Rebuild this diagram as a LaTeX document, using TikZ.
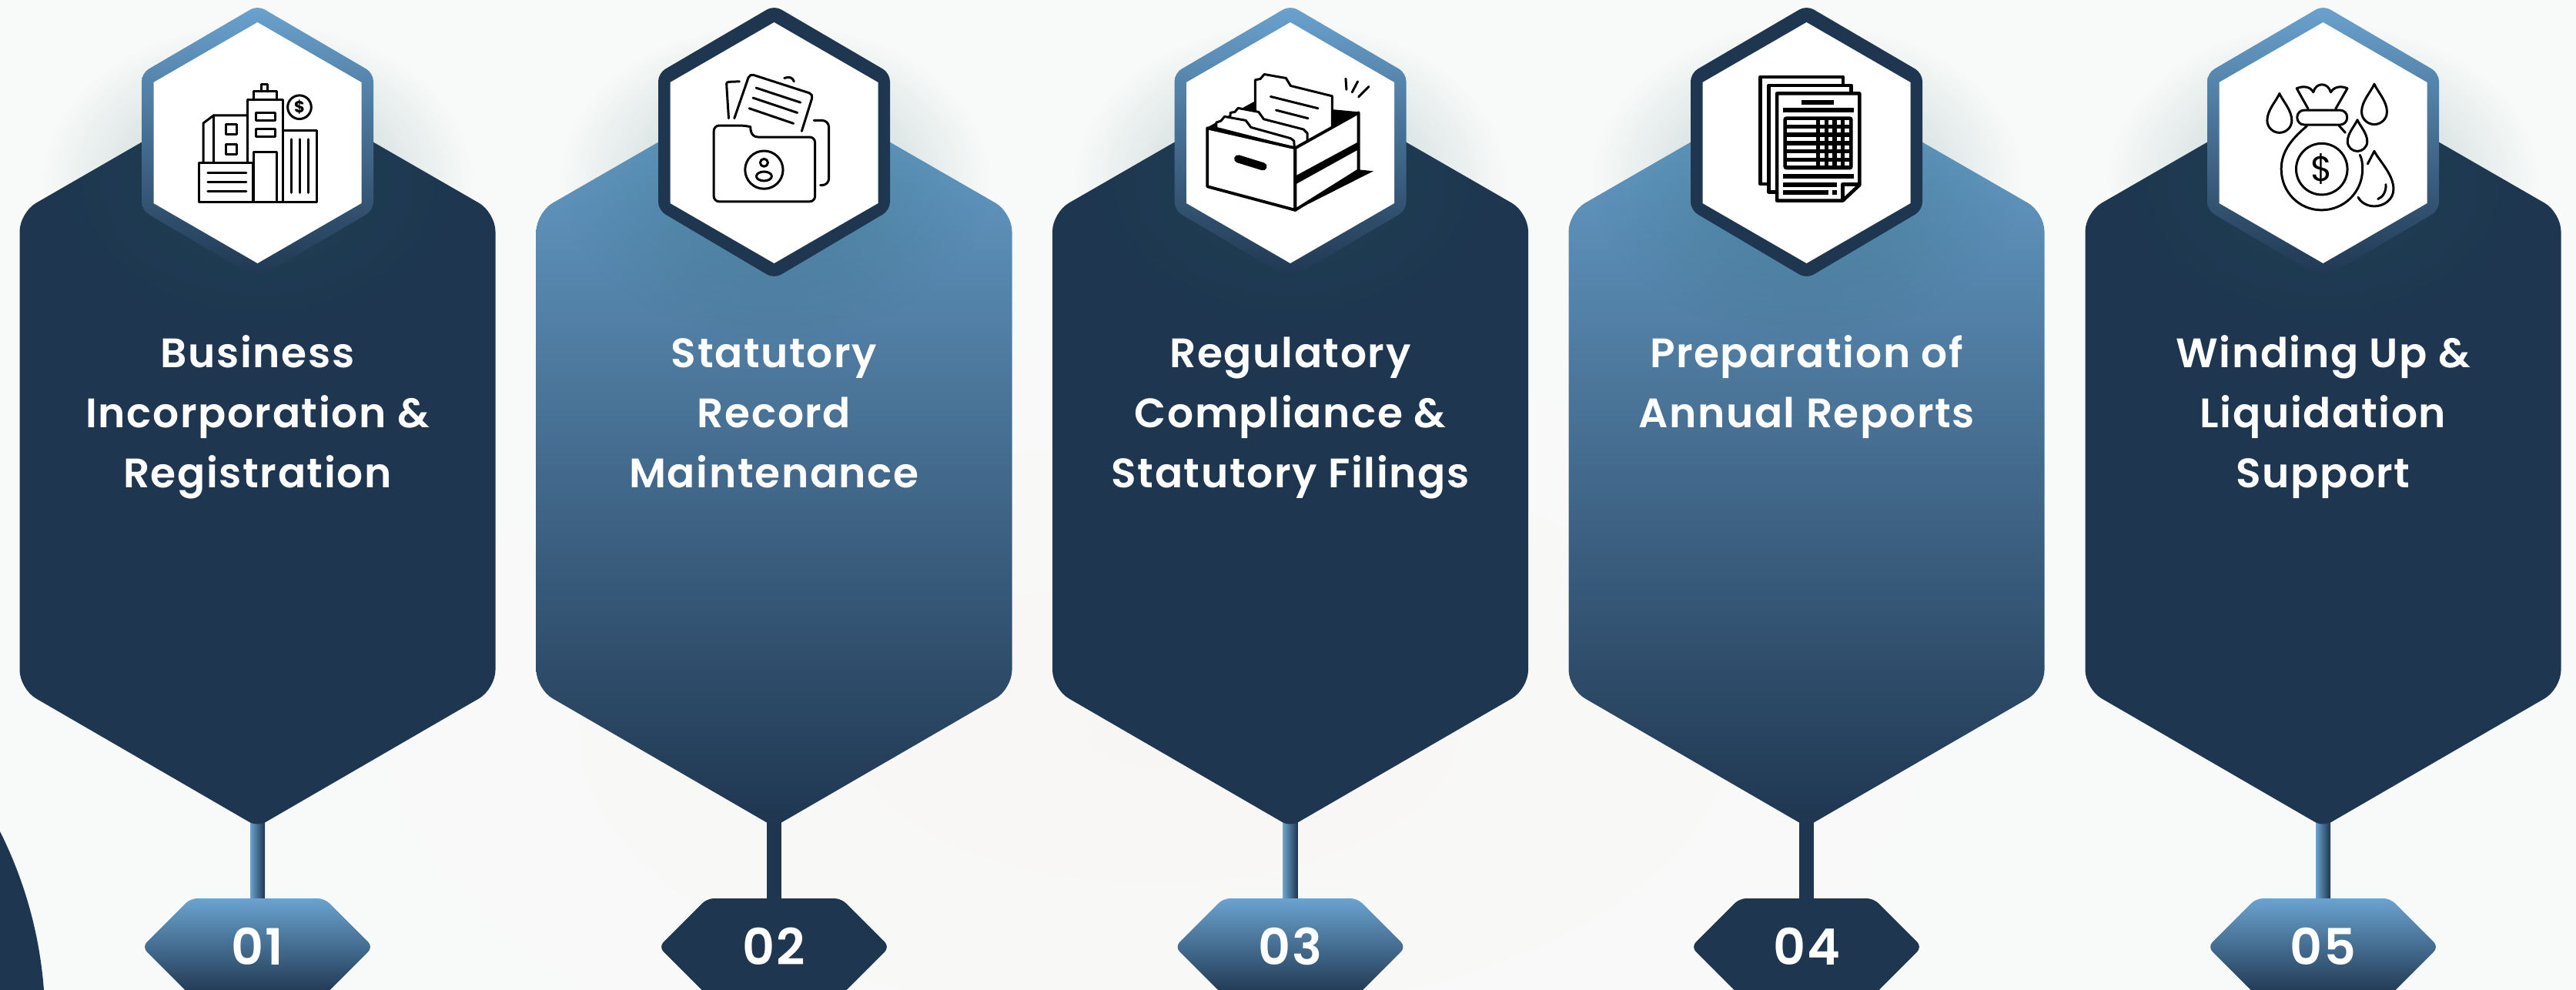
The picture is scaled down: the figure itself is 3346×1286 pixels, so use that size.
\documentclass[tikz,border=0pt]{standalone}
\usepackage{fontspec}
\setmainfont{Poppins}
\newfontfamily\headfont{Poppins SemiBold}[LetterSpace=3]
\usetikzlibrary{fadings}

\definecolor{navy}{HTML}{1F3650}
\definecolor{sky}{HTML}{6AA3CF}
\definecolor{paper}{HTML}{F8FAF9}
\definecolor{glow}{HTML}{1C5A5C}
\definecolor{blush}{HTML}{FBEFEC}

\tikzfading[name=softfade, inner color=transparent!70, outer color=transparent!100]

\tikzset{
	navyfill/.style={fill=navy},
	skyfill/.style={top color=sky, bottom color=navy},
	stemsky/.style={left color=sky, right color=navy},
	captiontext/.style={text=white, align=center, inner sep=0pt, anchor=north,
		font=\headfont\fontsize{15.2}{22.2}\selectfont},
	numtext/.style={text=white, inner sep=0pt, anchor=base,
		font=\headfont\fontsize{18.5}{22}\selectfont},
	iconline/.style={draw=black, line width=.85pt, line cap=round, line join=round},
	droplet/.pic={
		\draw[iconline] (0,0) .. controls (-13,30) and (-48,65) .. (-48,105)
			.. controls (-48,135) and (-23,153) .. (0,153)
			.. controls (23,153) and (48,135) .. (48,105)
			.. controls (48,65) and (13,30) .. cycle;
	}
}

\begin{document}
\begin{tikzpicture}[x=0.01cm,y=-0.01cm]
	\useasboundingbox (0,0) rectangle (3346,1286);
	\fill[paper] (0,0) rectangle (3346,1286);
	\fill[blush, path fading=softfade] (1500,950) ellipse (1000 and 500);

	% corner
	\fill[navy] (0,1080) .. controls (35,1150) and (52,1220) .. (57,1286) -- (0,1286) -- cycle;

	% columns
	\foreach \i/\cx/\bigfill/\smallfill/\stemfill in {
		1/334.5/navyfill/skyfill/stemsky,
		2/1005.5/skyfill/navyfill/navyfill,
		3/1676/navyfill/skyfill/stemsky,
		4/2346.5/skyfill/navyfill/navyfill,
		5/3017.5/navyfill/skyfill/stemsky}{
		\coordinate (stemtop\i) at (\cx-9.5,1060);
		\coordinate (stemfoot\i) at (\cx+9.5,1168);
		\path[\stemfill] (stemtop\i) rectangle (stemfoot\i);

		\path[\bigfill, rounded corners=7pt] (\cx,98) -- (\cx+309,276) -- (\cx+309,895)
			[rounded corners=3.5pt] -- (\cx,1074)
			[rounded corners=7pt] -- (\cx-309,895) -- (\cx-309,276) -- cycle;

		\fill[glow, path fading=softfade] (\cx,235) ellipse (280 and 205);

		\path[\smallfill, rounded corners=3pt] (\cx,7) -- (\cx+150.5,95) -- (\cx+150.5,273)
			-- (\cx,362) -- (\cx-150.5,273) -- (\cx-150.5,95) -- cycle;
		\fill[white] (\cx,29) -- (\cx+135,107) -- (\cx+135,264) -- (\cx,342)
			-- (\cx-135,264) -- (\cx-135,107) -- cycle;

		\path[\smallfill, rounded corners=2.5pt] (\cx-87,1167) -- (\cx+87,1167) -- (\cx+150,1230)
			-- (\cx+87,1293) -- (\cx-87,1293) -- (\cx-150,1230) -- cycle;
		\node[numtext] (num\i) at (\cx,1253) {0\i};
	}

	% captions
	\node[captiontext] (cap1) at (334.5,422.4) {\strut Business\\Incorporation \&\\Registration};
	\node[captiontext] (cap2) at (1005.5,422.4) {\strut Statutory\\Record\\Maintenance};
	\node[captiontext] (cap3) at (1676,422.4) {\strut Regulatory\\Compliance \&\\Statutory Filings};
	\node[captiontext] (cap4) at (2346.5,422.4) {\strut Preparation of\\Annual Reports};
	\node[captiontext] (cap5) at (3017.5,422.4) {\strut Winding Up \&\\Liquidation\\Support};

	% building
	\begin{scope}[shift={(180,80)},x=0.003333cm,y=-0.003333cm]
		\draw[iconline] (237,395) rectangle (447,548);
		\draw[iconline] (270,435)--(420,435) (270,471)--(420,471) (270,507)--(420,507);
		\draw[iconline] (450,548)--(450,352)--(540,352)--(540,548);
		\draw[iconline] (425,395)--(425,150)--(563,150)--(563,548);
		\draw[iconline] (450,150)--(450,117)--(540,117)--(540,150);
		\draw[iconline] (480,117)--(480,88)--(503,88)--(503,117);
		\draw[iconline] (458,200) rectangle (532,230);
		\draw[iconline] (458,263) rectangle (532,293);
		\draw[iconline] (563,268)--(697,268)--(697,548)--(237,548);
		\draw[iconline] (596,303)--(596,512) (629,303)--(629,512) (662,303)--(662,512);
		\draw[iconline] (253,395)--(253,240)--(293,210)--(425,210);
		\draw[iconline] (293,210)--(293,395);
		\draw[iconline] (340,245) rectangle (382,285);
		\draw[iconline] (340,323) rectangle (382,362);
		\draw[iconline] (628,178) circle (46);
		\node[inner sep=0pt, font=\bfseries\fontsize{6}{6}\selectfont] (coinsign) at (628,178) {\$};
	\end{scope}

	% folder
	\begin{scope}[shift={(830,0)},x=0.003333cm,y=-0.003333cm]
		\draw[iconline, rounded corners=2pt] (292,490) -- (415,490)
			[sharp corners] .. controls (435,495) and (432,535) .. (465,535)
			[rounded corners=2pt] -- (687,535) -- (687,787) -- (292,787) -- cycle;
		\draw[iconline] (488,663) circle (74);
		\draw[iconline] (488,635) circle (15);
		\draw[iconline] (488,688) ellipse (30 and 18);
		\draw[iconline, rounded corners=1.5pt] (372,462) -- (432,288) -- (680,368) -- (635,512);
		\draw[iconline] (457,343)--(630,400) (445,382)--(618,440) (430,423)--(603,482);
		\draw[iconline, rounded corners=.8pt] (350,462) -- (341,320) -- (392,318);
		\draw[iconline] (567,305) .. controls (585,298) and (600,302) .. (605,318);
		\draw[iconline, rounded corners=2.5pt] (683,470) -- (741,470) -- (741,723) -- (708,723);
	\end{scope}

	% file box
	\begin{scope}[shift={(1500,0)},x=0.003333cm,y=-0.003333cm]
		\fill[black] (205,497) -- (385,398) -- (798,437) -- (798,460) -- (548,578) -- cycle;
		\draw[iconline, fill=white] (392,470) -- (392,312) -- (412,308) -- (427,290) -- (512,305)
			-- (530,335) -- (692,375) -- (692,510) -- (590,560) -- cycle;
		\draw[iconline] (452,377)--(637,423) (473,430)--(598,462);
		\draw[iconline, fill=white] (292,490) -- (295,440) -- (312,437) -- (325,422) -- (405,437)
			-- (425,465) -- (580,505) -- (595,520) -- (595,553) -- (548,578) -- cycle;
		\draw[iconline, fill=white] (240,500) -- (240,478) -- (258,472) -- (272,455) -- (355,470)
			-- (375,497) -- (530,540) -- (543,550) -- (545,578) -- cycle;
		\draw[iconline, line width=1.1pt, fill=white] (205,500) -- (205,728) -- (548,820) -- (548,578) -- cycle;
		\draw[iconline, line width=1.1pt, fill=white] (548,578) -- (795,440) -- (795,665) -- (548,820) -- cycle;
		\fill[black] (552,685) -- (792,555) -- (792,585) -- (552,718) -- cycle;
		\fill[black] (552,820) -- (795,662) -- (853,668) -- cycle;
		\draw[iconline, line width=2.9pt] (325,620) -- (422,650);
		\draw[iconline] (745,307)--(748,350) (792,318)--(770,360) (835,338)--(795,378);
	\end{scope}

	% report sheets
	\begin{scope}[shift={(2170,0)},x=0.003333cm,y=-0.003333cm]
		\begin{scope}[iconline, line width=1.3pt, line cap=butt]
			\draw (383,718) -- (350,718) -- (350,300) -- (673,300) -- (673,333);
			\draw (415,750) -- (383,750) -- (383,333) -- (705,333) -- (705,365);
			\draw (415,365) -- (737,365) -- (737,722) -- (672,783) -- (415,783) -- cycle;
			\draw (672,783) -- (672,720) -- (737,720);
		\end{scope}
		\fill[black] (510,390) rectangle (638,408);
		\fill[black] (438,420) rectangle (714,438);
		\fill[black, rounded corners=1pt] (440,455) rectangle (711,662);
		\foreach \rowy in {470,502,534,567,599,631}{
			\fill[white] (455,\rowy) rectangle (567,\rowy+16);
			\foreach \cellx in {584,616,648,680}
				\fill[white] (\cellx,\rowy) rectangle (\cellx+16,\rowy+16);
		}
		\fill[black] (438,678) rectangle (714,696);
		\fill[black] (438,711) rectangle (648,729);
		\fill[black] (438,742) rectangle (615,760);
		\fill[black] (631,742) rectangle (648,760);
	\end{scope}

	% money bag
	\begin{scope}[shift={(2850,0)},x=0.003333cm,y=-0.003333cm]
		\draw[iconline] (445,425) -- (400,345) .. controls (430,333) and (455,340) .. (465,360)
			.. controls (475,320) and (522,320) .. (533,360)
			.. controls (545,340) and (570,333) .. (598,345) -- (552,425);
		\draw[iconline, rounded corners=2.6pt] (402,430) rectangle (597,487);
		\draw[iconline] (440,492) .. controls (370,550) and (340,600) .. (340,660)
			.. controls (340,750) and (410,820) .. (497,820)
			.. controls (585,820) and (657,750) .. (657,660)
			.. controls (657,640) and (655,620) .. (647,605);
		\draw[iconline] (565,490) -- (590,518);
		\draw[iconline] (498,660) circle (100);
		\node[inner sep=0pt, font=\fontsize{13}{13}\selectfont] (bagsign) at (498,660) {\$};
		\pic at (333,365) {droplet};
		\pic[scale=1.03] at (703,328) {droplet};
		\pic[scale=.8] at (637,468) {droplet};
		\draw[iconline] (677,640) -- (703,590) .. controls (720,625) and (778,680) .. (778,738)
			.. controls (778,780) and (740,805) .. (703,805)
			.. controls (675,805) and (650,790) .. (640,770);
		\draw[iconline] (748,720) .. controls (750,745) and (738,770) .. (717,777);
	\end{scope}
\end{tikzpicture}
\end{document}
